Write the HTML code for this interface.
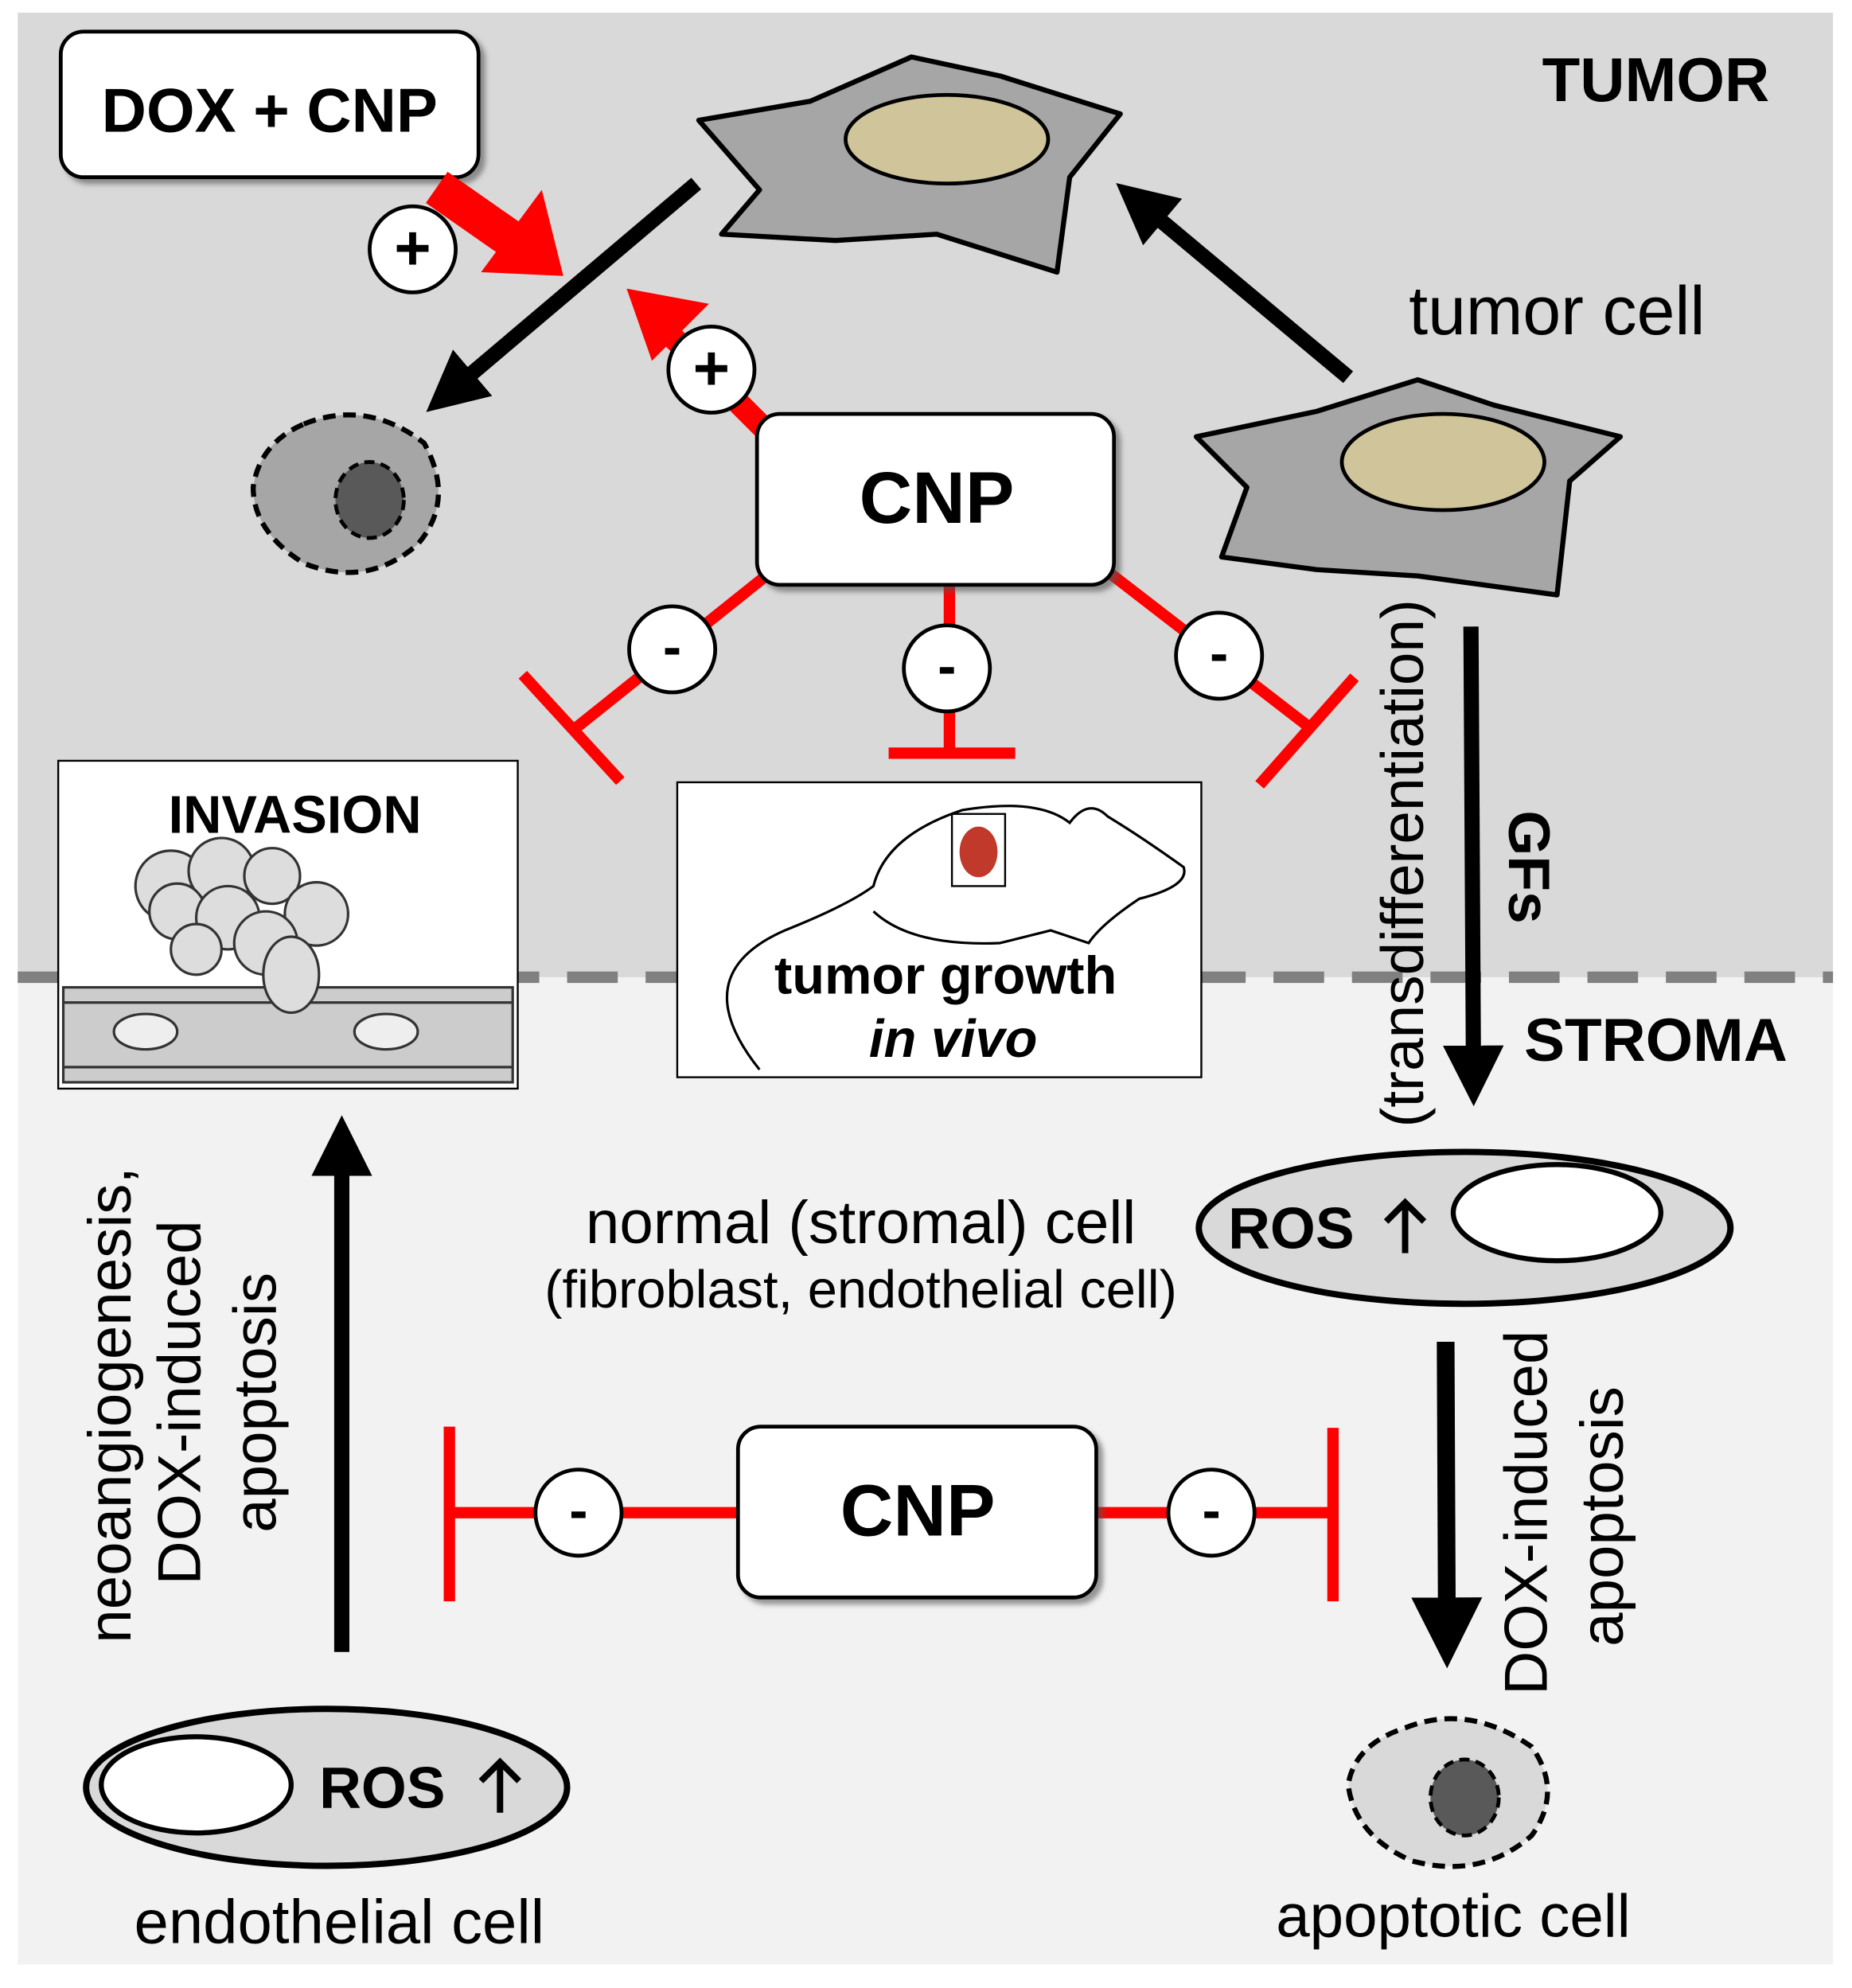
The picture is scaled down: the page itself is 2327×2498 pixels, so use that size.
<!DOCTYPE html>
<html><head><meta charset="utf-8"><style>html,body{margin:0;padding:0;background:#fff}svg{display:block}</style></head>
<body>
<svg width="2327" height="2498" viewBox="0 0 1463 1570.5" preserveAspectRatio="none" xmlns="http://www.w3.org/2000/svg" font-family="Liberation Sans, Arial, sans-serif">
<defs>
<marker id="ah" markerWidth="4" markerHeight="4" refX="2" refY="2" orient="auto" markerUnits="strokeWidth"><path d="M0,0 L4,2 L0,4 z" fill="#000"/></marker>
<filter id="sh" x="-10%" y="-10%" width="130%" height="130%"><feDropShadow dx="4" dy="4" stdDeviation="2" flood-color="#555" flood-opacity="0.6"/></filter>
</defs>
<rect x="0" y="0" width="1463" height="1570.5" fill="#fff"/>
<rect x="14" y="10" width="1434" height="762" fill="#d9d9d9"/>
<rect x="14" y="772" width="1434" height="780" fill="#f2f2f2"/>
<line x1="14" y1="772" x2="1448" y2="772" stroke="#808080" stroke-width="9" stroke-dasharray="40,22"/>

<text x="1308" y="80" font-size="49" font-weight="bold" text-anchor="middle">TUMOR</text>
<text x="1308" y="838" font-size="48" font-weight="bold" text-anchor="middle">STROMA</text>

<path d="M552,95 L640,80 L720,45 L790,60 L885,90 L845,140 L835,215 L740,185 L660,190 L570,185 L600,150 Z" fill="#a6a6a6" stroke="#000" stroke-width="4" stroke-linejoin="round"/>
<ellipse cx="748" cy="110" rx="80" ry="35" fill="#cfc49a" stroke="#000" stroke-width="3"/>
<path d="M945,345 L1040,325 L1120,300 L1180,320 L1280,345 L1240,380 L1230,470 L1120,455 L1040,450 L965,440 L985,385 Z" fill="#a6a6a6" stroke="#000" stroke-width="4" stroke-linejoin="round"/>
<ellipse cx="1140" cy="365" rx="80" ry="38" fill="#cfc49a" stroke="#000" stroke-width="3"/>
<text x="1230" y="264" font-size="54" text-anchor="middle">tumor cell</text>

<line x1="1065" y1="298" x2="900" y2="160" stroke="#000" stroke-width="12" marker-end="url(#ah)"/>
<line x1="550" y1="145" x2="355" y2="310" stroke="#000" stroke-width="12" marker-end="url(#ah)"/>

<rect x="48" y="25" width="330" height="115" rx="18" fill="#fff" stroke="#000" stroke-width="3" filter="url(#sh)"/>
<text x="213" y="104" font-size="49" font-weight="bold" text-anchor="middle">DOX + CNP</text>

<line x1="345" y1="148" x2="405" y2="190" stroke="#f00" stroke-width="30"/>
<polygon points="445,218 380,215 428,150" fill="#f00"/>
<line x1="605" y1="340" x2="530" y2="265" stroke="#f00" stroke-width="18"/>
<polygon points="495,228 560,240 515,285" fill="#f00"/>
<circle cx="326" cy="197" r="34" fill="#fff" stroke="#000" stroke-width="3"/>
<text x="326" y="213" font-size="50" font-weight="bold" text-anchor="middle">+</text>
<circle cx="562" cy="292" r="34" fill="#fff" stroke="#000" stroke-width="3"/>
<text x="562" y="308" font-size="50" font-weight="bold" text-anchor="middle">+</text>

<path d="M240,335 Q290,315 335,350 Q360,395 330,430 Q290,465 240,445 Q200,420 200,385 Q205,350 240,335 Z" fill="#a6a6a6" stroke="#000" stroke-width="4" stroke-dasharray="10,6"/>
<ellipse cx="292" cy="395" rx="27" ry="30" fill="#595959" stroke="#000" stroke-width="3" stroke-dasharray="8,5"/>

<g stroke="#f00" stroke-width="9">
<line x1="605" y1="455" x2="455" y2="575"/>
<line x1="413" y1="533" x2="490" y2="617"/>
<line x1="750" y1="462" x2="750" y2="595"/>
<line x1="702" y1="595" x2="802" y2="595"/>
<line x1="877" y1="453" x2="1035" y2="575"/>
<line x1="995" y1="620" x2="1070" y2="535"/>
</g>
<rect x="598" y="327" width="282" height="135" rx="18" fill="#fff" stroke="#000" stroke-width="3" filter="url(#sh)"/>
<text x="740" y="413" font-size="58" font-weight="bold" text-anchor="middle">CNP</text>
<g fill="#fff" stroke="#000" stroke-width="3">
<circle cx="531" cy="513" r="34"/><circle cx="748" cy="528" r="34"/><circle cx="963" cy="518" r="34"/>
</g>
<g font-size="44" font-weight="bold" text-anchor="middle">
<text x="531" y="526">-</text><text x="748" y="541">-</text><text x="963" y="531">-</text>
</g>

<rect x="46" y="601" width="363" height="259" fill="#fff" stroke="#000" stroke-width="1.5"/>
<text x="233" y="658" font-size="42" font-weight="bold" text-anchor="middle">INVASION</text>
<rect x="50" y="780" width="355" height="75" fill="#ccc" stroke="#333" stroke-width="2"/>
<line x1="50" y1="792" x2="405" y2="792" stroke="#333" stroke-width="2"/>
<line x1="50" y1="843" x2="405" y2="843" stroke="#333" stroke-width="2"/>
<ellipse cx="115" cy="815" rx="25" ry="14" fill="#eee" stroke="#333" stroke-width="2"/>
<ellipse cx="305" cy="815" rx="25" ry="14" fill="#eee" stroke="#333" stroke-width="2"/>
<g fill="#ddd" stroke="#333" stroke-width="2">
<circle cx="135" cy="700" r="28"/><circle cx="175" cy="688" r="26"/><circle cx="215" cy="692" r="22"/>
<circle cx="140" cy="720" r="22"/><circle cx="180" cy="725" r="25"/><circle cx="250" cy="722" r="25"/>
<circle cx="155" cy="750" r="20"/><circle cx="210" cy="745" r="25"/><ellipse cx="230" cy="770" rx="22" ry="30"/>
</g>

<rect x="535" y="618" width="414" height="233" fill="#fff" stroke="#000" stroke-width="1.5"/>
<path d="M600,845 Q540,770 620,735 Q670,715 690,700 Q700,660 760,640 Q820,630 845,650 Q860,630 875,645 Q900,660 935,685 Q940,700 900,710 Q870,730 860,745 L830,735 L790,745 Q720,748 690,720" fill="none" stroke="#000" stroke-width="2"/>
<rect x="752" y="643" width="42" height="57" fill="#fff" stroke="#000" stroke-width="1.5"/>
<ellipse cx="773" cy="673" rx="15" ry="20" fill="#c0392b"/>
<text x="747" y="785" font-size="42" font-weight="bold" text-anchor="middle">tumor growth</text>
<text x="753" y="835" font-size="42" font-weight="bold" font-style="italic" text-anchor="middle">in vivo</text>

<line x1="1162" y1="495" x2="1164" y2="850" stroke="#000" stroke-width="12" marker-end="url(#ah)"/>
<text transform="translate(1192,685) rotate(90)" font-size="46" font-weight="bold" text-anchor="middle">GFs</text>
<text transform="translate(1124,682) rotate(-90)" font-size="47" text-anchor="middle">(transdifferentiation)</text>

<ellipse cx="1157" cy="970" rx="210" ry="60" fill="#d9d9d9" stroke="#000" stroke-width="5"/>
<ellipse cx="1230" cy="958" rx="82" ry="38" fill="#fff" stroke="#000" stroke-width="4"/>
<text x="1020" y="986" font-size="46" font-weight="bold" text-anchor="middle">ROS</text>
<g stroke="#000" stroke-width="5" fill="none"><line x1="1110" y1="950" x2="1110" y2="990"/><polyline points="1095,965 1110,950 1125,965"/></g>

<text x="680" y="982" font-size="48" text-anchor="middle">normal (stromal) cell</text>
<text x="680" y="1033" font-size="42" text-anchor="middle">(fibroblast, endothelial cell)</text>

<line x1="270" y1="1305" x2="270" y2="905" stroke="#000" stroke-width="12" marker-end="url(#ah)"/>
<g font-size="48" text-anchor="middle">
<text transform="translate(103,1110) rotate(-90)">neoangiogenesis,</text>
<text transform="translate(158,1108) rotate(-90)">DOX-induced</text>
<text transform="translate(218,1108) rotate(-90)">apoptosis</text>
</g>

<g stroke="#f00" stroke-width="9">
<line x1="355" y1="1195" x2="583" y2="1195"/>
<line x1="355" y1="1127" x2="355" y2="1265"/>
<line x1="866" y1="1195" x2="1053" y2="1195"/>
<line x1="1053" y1="1128" x2="1053" y2="1265"/>
</g>
<rect x="583" y="1127" width="283" height="135" rx="18" fill="#fff" stroke="#000" stroke-width="3" filter="url(#sh)"/>
<text x="725" y="1213" font-size="58" font-weight="bold" text-anchor="middle">CNP</text>
<circle cx="457" cy="1195" r="34" fill="#fff" stroke="#000" stroke-width="3"/>
<circle cx="957" cy="1195" r="34" fill="#fff" stroke="#000" stroke-width="3"/>
<text x="457" y="1208" font-size="44" font-weight="bold" text-anchor="middle">-</text>
<text x="957" y="1208" font-size="44" font-weight="bold" text-anchor="middle">-</text>

<line x1="1142" y1="1060" x2="1143" y2="1290" stroke="#000" stroke-width="14" marker-end="url(#ah)"/>
<g font-size="48" text-anchor="middle">
<text transform="translate(1222,1195) rotate(-90)">DOX-induced</text>
<text transform="translate(1282,1198) rotate(-90)">apoptosis</text>
</g>

<path d="M1110,1365 Q1160,1345 1210,1380 Q1235,1415 1210,1450 Q1170,1485 1115,1470 Q1070,1450 1065,1410 Q1070,1378 1110,1365 Z" fill="#d9d9d9" stroke="#000" stroke-width="4" stroke-dasharray="10,6"/>
<ellipse cx="1157" cy="1420" rx="27" ry="30" fill="#595959" stroke="#000" stroke-width="3" stroke-dasharray="8,5"/>
<text x="1148" y="1530" font-size="48" text-anchor="middle">apoptotic cell</text>

<ellipse cx="258" cy="1412" rx="190" ry="62" fill="#d9d9d9" stroke="#000" stroke-width="5"/>
<ellipse cx="155" cy="1410" rx="75" ry="38" fill="#fff" stroke="#000" stroke-width="4"/>
<text x="302" y="1428" font-size="46" font-weight="bold" text-anchor="middle">ROS</text>
<g stroke="#000" stroke-width="5" fill="none"><line x1="395" y1="1392" x2="395" y2="1432"/><polyline points="380,1407 395,1392 410,1407"/></g>
<text x="268" y="1535" font-size="49" text-anchor="middle">endothelial cell</text>
</svg>
</body></html>
